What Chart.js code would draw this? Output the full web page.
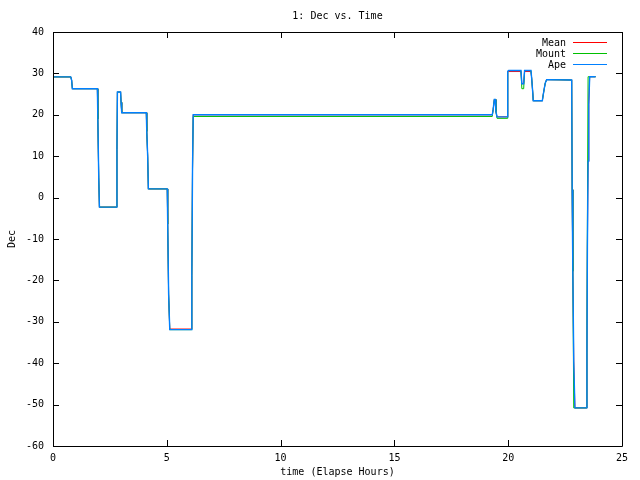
<!DOCTYPE html>
<html>
<head>
<meta charset="utf-8">
<script src="https://cdn.jsdelivr.net/npm/chart.js@4.4.1/dist/chart.umd.min.js"></script>
<style>
  body { margin: 0; background: #fff; }
  canvas { display: block; }
</style>
</head>
<body>
<canvas id="decChart" width="640" height="480"></canvas>
<script>
// elapsed hours of each sample
const times = [0, 0.78, 0.82, 0.85, 1.95, 1.97, 2.01, 2.04, 2.80, 2.81,
  2.83, 2.97, 2.99, 3.02, 4.10, 4.12, 4.16, 4.19, 5.02, 5.04,
  5.08, 5.13, 6.08, 6.10, 6.13, 6.16, 19.30, 19.34, 19.39, 19.43,
  19.46, 19.51, 19.95, 19.97, 19.99, 20.02, 20.56, 20.60, 20.68, 20.72,
  21.00, 21.03, 21.08, 21.10, 21.50, 21.54, 21.59, 21.63, 21.69, 22.79,
  22.81, 22.84, 22.88, 22.93, 23.45, 23.46, 23.48, 23.51, 23.54, 23.58, 23.84];

const meanDec = [29.15, 29.15, 28.3, 26.3, 26.3, 19.0, 4.8, -2.3, -2.3, 11.6,
  25.5, 25.5, 23.0, 20.5, 20.5, 16.0, 10.0, 2.1, 2.1, -6.4,
  -23.3, -31.75, -31.75, -18.8, 6.9, 20.0, 20.0, 21.3, 23.7, 23.7,
  20.8, 19.5, 19.5, 22.0, 30.5, 30.45, 30.45, 27.5, 27.5, 30.45,
  30.45, 28.9, 25.3, 23.4, 23.4, 24.9, 26.5, 27.7, 28.5, 28.4,
  1.9, -17.8, -39.5, -50.8, -50.8, -37.5, -11.8, 8.8, 22.5, 29.2, 29.2];

const mountDec = [29.15, 29.15, 28.3, 26.3, 26.3, 19.0, 4.8, -2.3, -2.3, 11.6,
  25.5, 25.5, 23.0, 20.5, 20.5, 16.0, 10.0, 2.1, 2.1, -6.4,
  -23.3, -31.9, -31.9, -18.8, 6.9, 19.6, 19.6, 21.3, 23.7, 23.7,
  20.8, 19.15, 19.15, 22.0, 30.5, 30.7, 30.7, 26.3, 26.3, 30.7,
  30.7, 28.9, 25.3, 23.4, 23.4, 24.9, 26.5, 27.7, 28.5, 28.4,
  1.9, -17.8, -50.8, -50.8, -50.8, -30.8, -5.0, 29.2, 29.2, 29.2, 29.2];

const apeDec = [29.15, 29.15, 28.3, 26.3, 26.3, 19.0, 4.8, -2.3, -2.3, 11.6,
  25.5, 25.5, 23.0, 20.5, 20.5, 16.0, 10.0, 2.1, 2.1, -6.4,
  -23.3, -31.9, -31.9, -18.8, 6.9, 20.0, 20.0, 21.3, 23.7, 23.7,
  20.8, 19.5, 19.5, 22.0, 30.5, 30.7, 30.7, 27.5, 27.5, 30.7,
  30.7, 28.9, 25.3, 23.4, 23.4, 24.9, 26.5, 27.7, 28.5, 28.4,
  1.9, -17.8, -39.5, -50.8, -50.8, -37.5, -11.8, 8.8, 22.5, 29.2, 29.2];

const seriesNames = ["Mean", "Mount", "Ape"];
const seriesColors = ["#ff0000", "#00c000", "#0080ff"];
const xTicks = [0, 5, 10, 15, 20, 25];
const yTicks = [-60, -50, -40, -30, -20, -10, 0, 10, 20, 30, 40];

const FONT = "10px 'DejaVu Sans Mono', monospace";

const toPoints = (vals) => times.map((t, i) => ({ x: t, y: vals[i] }));

// gnuplot look: inward ticks, full frame, title, labels, key
const gnuplotDecor = {
  id: "gnuplotDecor",
  beforeDraw(chart) {
    const ctx = chart.ctx;
    ctx.save();
    ctx.fillStyle = "#fff";
    ctx.fillRect(0, 0, chart.width, chart.height);
    ctx.restore();
  },
  afterDraw(chart) {
    const ctx = chart.ctx;
    const a = chart.chartArea;
    const xs = chart.scales.x;
    const ys = chart.scales.y;
    ctx.save();
    ctx.strokeStyle = "#000";
    ctx.lineWidth = 1;
    ctx.beginPath();
    ctx.rect(a.left + 0.5, a.top + 0.5, a.right - a.left, a.bottom - a.top);
    const tl = 6;
    xTicks.forEach((v) => {
      const px = Math.round(xs.getPixelForValue(v)) + 0.5;
      ctx.moveTo(px, a.bottom);
      ctx.lineTo(px, a.bottom - tl);
      ctx.moveTo(px, a.top);
      ctx.lineTo(px, a.top + tl);
    });
    yTicks.forEach((v) => {
      const py = Math.round(ys.getPixelForValue(v)) + 0.5;
      ctx.moveTo(a.left, py);
      ctx.lineTo(a.left + tl, py);
      ctx.moveTo(a.right, py);
      ctx.lineTo(a.right - tl, py);
    });
    ctx.stroke();

    ctx.fillStyle = "#000";
    ctx.font = FONT;
    ctx.textAlign = "center";
    ctx.textBaseline = "middle";
    ctx.fillText("1: Dec vs. Time", (a.left + a.right) / 2, 16);
    ctx.fillText("time (Elapse Hours)", (a.left + a.right) / 2, 472);
    ctx.save();
    ctx.translate(12, (a.top + a.bottom) / 2);
    ctx.rotate(-Math.PI / 2);
    ctx.fillText("Dec", 0, 0);
    ctx.restore();

    // key
    ctx.textAlign = "right";
    seriesNames.forEach((name, i) => {
      const y = 43 + i * 11;
      ctx.fillStyle = "#000";
      ctx.fillText(name, 566, y);
      ctx.strokeStyle = seriesColors[i];
      ctx.beginPath();
      ctx.moveTo(573, y - 0.5);
      ctx.lineTo(607, y - 0.5);
      ctx.stroke();
    });
    ctx.restore();
  }
};

const ctx = document.getElementById("decChart").getContext("2d");
new Chart(ctx, {
  type: "line",
  data: {
    datasets: [
      { label: seriesNames[0], data: toPoints(meanDec), borderColor: seriesColors[0], order: 2 },
      { label: seriesNames[1], data: toPoints(mountDec), borderColor: seriesColors[1], order: 1 },
      { label: seriesNames[2], data: toPoints(apeDec), borderColor: seriesColors[2], borderWidth: 1.4, order: 0 },
    ],
  },
  options: {
    responsive: false,
    animation: false,
    events: [],
    layout: { padding: { left: 0, right: 18, top: 32, bottom: 0 } },
    elements: {
      line: { borderWidth: 1, tension: 0 },
      point: { radius: 0 },
    },
    plugins: {
      legend: { display: false },
      title: { display: false },
      tooltip: { enabled: false },
    },
    scales: {
      x: {
        type: "linear",
        min: 0,
        max: 25,
        afterBuildTicks: (s) => { s.ticks = xTicks.map((v) => ({ value: v })); },
        afterFit: (s) => { s.height = 34; },
        grid: { display: false, drawTicks: false, tickLength: 0 },
        border: { display: false },
        ticks: { color: "#000", font: { family: "'DejaVu Sans Mono', monospace", size: 10 }, padding: 6, maxRotation: 0 },
      },
      y: {
        type: "linear",
        min: -60,
        max: 40,
        afterBuildTicks: (s) => { s.ticks = yTicks.map((v) => ({ value: v })); },
        afterFit: (s) => { s.width = 53; },
        grid: { display: false, drawTicks: false, tickLength: 0 },
        border: { display: false },
        ticks: { color: "#000", font: { family: "'DejaVu Sans Mono', monospace", size: 10 }, padding: 9 },
      },
    },
  },
  plugins: [gnuplotDecor],
});
</script>
</body>
</html>
